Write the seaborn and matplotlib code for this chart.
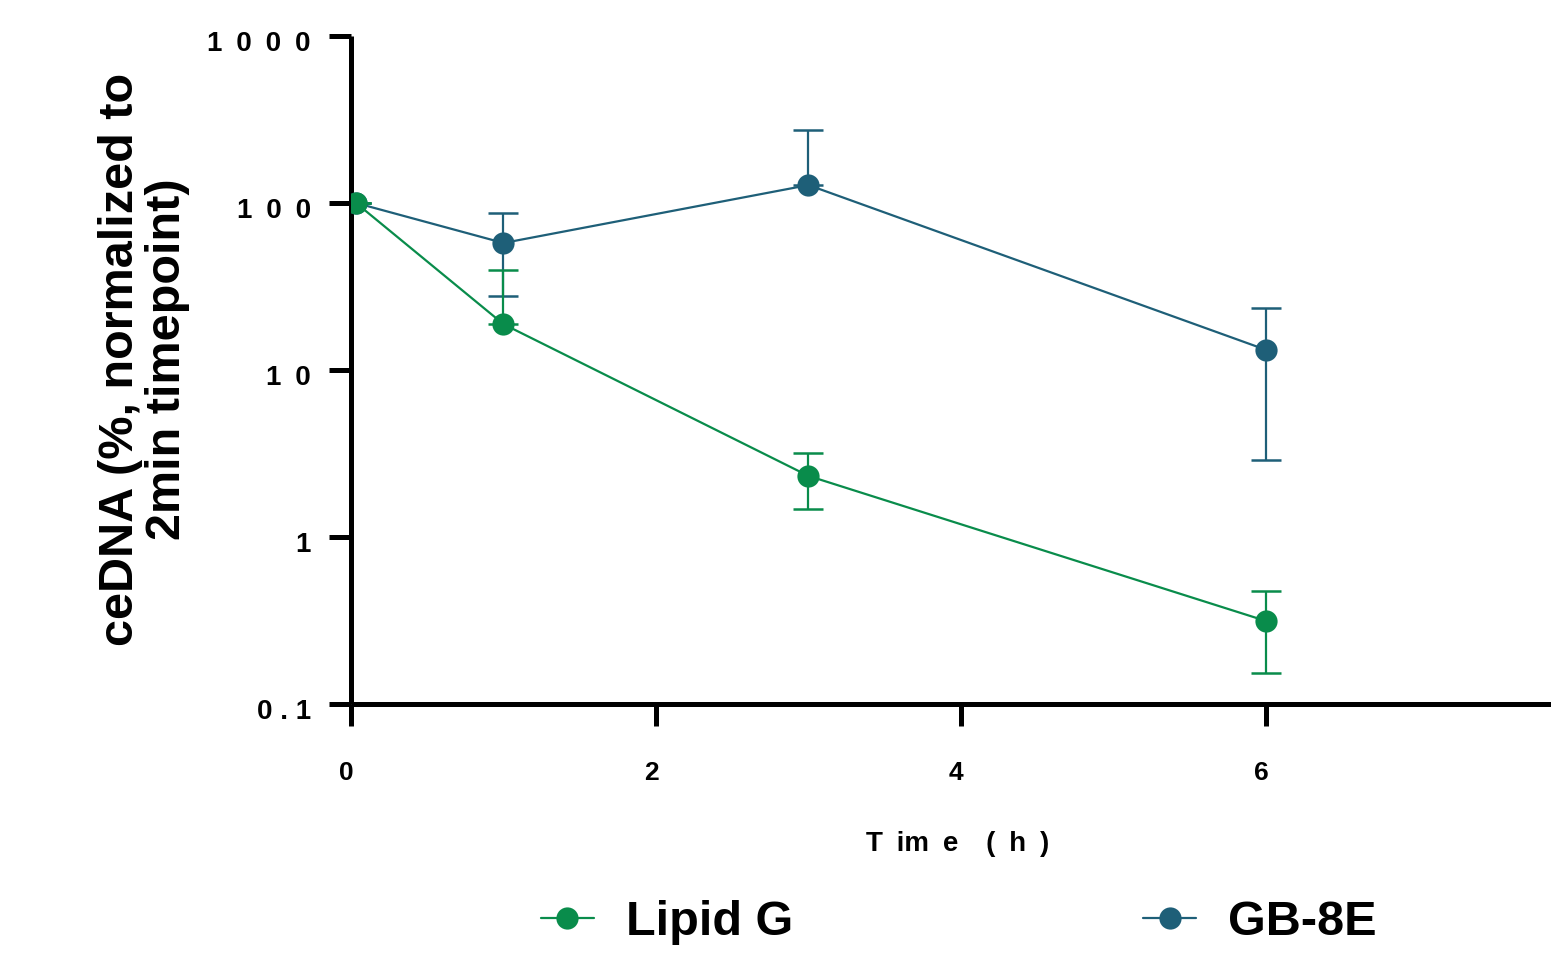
import numpy as np
import pandas as pd
import matplotlib.pyplot as plt
import matplotlib.transforms as mtransforms
import seaborn as sns

# data (mean and SD, % of 2 min timepoint)
time_h = [0.033, 1, 3, 6]
lipid_g_mean = [100, 18.8, 2.32, 0.314]
lipid_g_sd = [0, 21.0, 0.85, 0.16]
gb8e_mean = [100, 57.6, 128, 13.2]
gb8e_sd = [0, 30.0, 146, 10.3]

series = ['Lipid G', 'GB-8E']
colors = {'Lipid G': '#098C4B', 'GB-8E': '#1E5F78'}
ytick_vals = [0.1, 1, 10, 100, 1000]
ytick_labels = ['0 . 1', '1', '1\u20020', '1\u20020\u20020', '1\u20020\u20020\u20020']
xtick_vals = [0, 2, 4, 6]

sns.set_style('ticks')
plt.rcParams['font.family'] = ['Liberation Sans', 'DejaVu Sans']
plt.rcParams['font.weight'] = 'bold'
plt.rcParams['text.color'] = 'black'
plt.rcParams['xtick.color'] = 'black'
plt.rcParams['ytick.color'] = 'black'
plt.rcParams['axes.labelcolor'] = 'black'

df = pd.DataFrame({
    'time': time_h * 2,
    'mean': lipid_g_mean + gb8e_mean,
    'sd': lipid_g_sd + gb8e_sd,
    'group': ['Lipid G'] * 4 + ['GB-8E'] * 4,
})

fig = plt.figure(figsize=(15.51, 9.57), dpi=100)
ax = fig.add_axes([0.2263, 0.2644, 0.7866, 0.698])

# error bars first (drawn under the markers); lower bar dropped where it would go <= 0
for name in ['GB-8E', 'Lipid G']:
    d = df[df['group'] == name]
    lower = np.where(d['mean'] - d['sd'] > 0, d['sd'], 0)
    ax.errorbar(d['time'], d['mean'], yerr=[lower, d['sd']], fmt='none',
                ecolor=colors[name], elinewidth=1.6, capsize=11, capthick=1.8,
                zorder=2)

sns.lineplot(data=df, x='time', y='mean', hue='group', hue_order=['GB-8E', 'Lipid G'],
             palette=colors, marker='o', markersize=16, markeredgewidth=0,
             linewidth=1.6, ax=ax, legend=False, zorder=3)

ax.set_yscale('log')
ax.set_ylim(0.1, 1000)
ax.set_xlim(0, 8)
ax.set_yticks(ytick_vals)
ax.set_yticklabels(ytick_labels)
ax.yaxis.set_minor_locator(plt.NullLocator())
ax.set_xticks(xtick_vals)
ax.set_xticklabels([str(v) for v in xtick_vals])

for s in ['top', 'right']:
    ax.spines[s].set_visible(False)
for s in ['left', 'bottom']:
    ax.spines[s].set_linewidth(3.6)
    ax.spines[s].set_color('black')
    ax.spines[s].set_capstyle('butt')

ax.tick_params(axis='both', direction='out', length=16, width=3.6, color='black',
               labelcolor='black')
ax.tick_params(axis='y', pad=13, labelsize=20)
ax.tick_params(axis='x', pad=25, labelsize=19)

# small nudges like the original: y labels sit a bit low, x labels a bit left
y_shift = mtransforms.ScaledTranslation(0, -5 / 100, fig.dpi_scale_trans)
x_shift = mtransforms.ScaledTranslation(-5 / 100, 0, fig.dpi_scale_trans)
for lbl in ax.get_yticklabels():
    lbl.set_fontweight('bold')
    lbl.set_transform(lbl.get_transform() + y_shift)
for lbl in ax.get_xticklabels():
    lbl.set_fontweight('bold')
    lbl.set_transform(lbl.get_transform() + x_shift)

ax.set_ylabel('ceDNA (%, normalized to\n2min timepoint)', fontsize=35,
              fontweight='bold', linespacing=1.06)
ax.yaxis.set_label_coords(-0.132, 0.516)
ax.set_xlabel('T\u2002im\u2002e\u2002\u2002(\u2002h\u2002)', fontsize=20, fontweight='bold')
ax.xaxis.set_label_coords(0.4975, -0.19)

handles = [plt.Line2D([], [], color=colors[n], marker='o', markersize=16,
                      markeredgewidth=0, linewidth=1.6) for n in series]
fig.legend(handles, series, loc='center', bbox_to_anchor=(0.618, 0.036), ncol=2,
           frameon=False, prop={'size': 35, 'weight': 'bold'},
           handlelength=1.1, handletextpad=0.65, columnspacing=7.2)

fig.savefig('out.png', dpi=100)
